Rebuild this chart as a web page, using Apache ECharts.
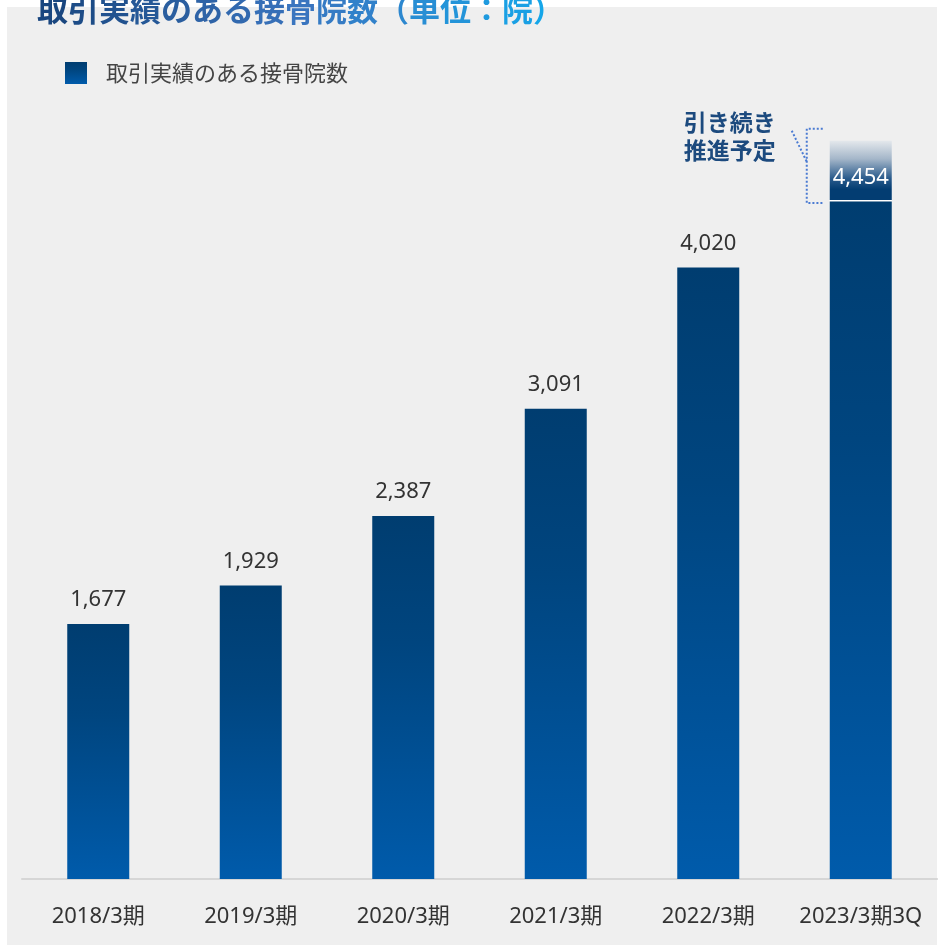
<!DOCTYPE html>
<html>
<head>
<meta charset="utf-8">
<script src="https://cdn.jsdelivr.net/npm/echarts@6/dist/echarts.min.js"></script>
<style>
  html, body { margin: 0; padding: 0; background: #ffffff; }
  #chart { width: 941px; height: 945px; }
</style>
</head>
<body>
<div id="chart"></div>
<script>
// 取引実績のある接骨院数（単位：院）
const categories = ['2018/3期', '2019/3期', '2020/3期', '2021/3期', '2022/3期', '2023/3期3Q'];
const clinicCounts = [1677, 1929, 2387, 3091, 4020, 4454];
// faded cap on the latest period: "引き続き推進予定"
const outlookCap = [null, null, null, null, null, 400];
const seriesName = '取引実績のある接骨院数';
const titleText = '取引実績のある接骨院数（単位：院）';

const FONT = '"Noto Sans", "Noto Sans CJK JP", sans-serif';
const CJK = '"Noto Sans CJK JP", "Noto Sans", sans-serif';

// colour blend used for the title lettering
function hex(c) { return [1, 3, 5].map(i => parseInt(c.substr(i, 2), 16)); }
function mix(a, b, t) {
  const A = hex(a), B = hex(b);
  return 'rgb(' + A.map((v, i) => Math.round(v + (B[i] - v) * t)).join(',') + ')';
}
function titleColor(t) {
  return t < 0.5 ? mix('#19467f', '#3a75bf', t / 0.5) : mix('#3a75bf', '#15a6e9', (t - 0.5) / 0.5);
}
const TITLE_FONT = 'bold 31px ' + CJK;
const titleRich = {};
let titleFmt = '';
Array.from(titleText).forEach((ch, i, arr) => {
  const key = 'c' + i;
  titleRich[key] = { fill: titleColor(i / (arr.length - 1)), font: TITLE_FONT };
  titleFmt += '{' + key + '|' + ch + '}';
});

const barGradient = new echarts.graphic.LinearGradient(0, 0, 0, 1, [
  { offset: 0, color: '#003d70' },
  { offset: 0.35, color: '#00457f' },
  { offset: 1, color: '#005bab' }
]);
const capGradient = new echarts.graphic.LinearGradient(0, 0, 0, 1, [
  { offset: 0, color: '#e4e8ec' },
  { offset: 0.3, color: '#a4b6c9' },
  { offset: 0.62, color: '#2a5b8c' },
  { offset: 0.8, color: '#033d72' },
  { offset: 0.975, color: '#033d72' },
  { offset: 0.975, color: '#ffffff' },
  { offset: 1, color: '#ffffff' }
]);

const fmt = v => Number(v).toLocaleString('en-US');

const chart = echarts.init(document.getElementById('chart'), null, { renderer: 'canvas' });

const panel = {
  type: 'rect', z: -10, silent: true,
  shape: { x: 7, y: 7, width: 930, height: 938 }, style: { fill: '#efefef' }
};
const title = {
  type: 'text', z: 10, left: 37, top: -6,
  style: { text: titleFmt, rich: titleRich, font: TITLE_FONT }
};

chart.setOption({
  backgroundColor: '#ffffff',
  animation: false,
  legend: {
    data: [seriesName],
    left: 65,
    top: 62,
    padding: 0,
    itemWidth: 22,
    itemHeight: 22,
    icon: 'rect',
    textStyle: { fontFamily: CJK, fontSize: 22, color: '#444444', padding: [0, 0, 0, 14] }
  },
  grid: { left: 22, right: 4, top: 118.5, bottom: 66 },
  xAxis: {
    type: 'category',
    data: categories,
    axisLine: { lineStyle: { color: '#d6d6d6', width: 2 } },
    axisTick: { show: false },
    axisLabel: { interval: 0, fontFamily: FONT, fontSize: 22, color: '#333333', margin: 27 }
  },
  yAxis: {
    type: 'value',
    min: 0,
    max: 5000,
    show: false,
    splitLine: { show: false }
  },
  series: [
    {
      name: seriesName,
      type: 'bar',
      stack: 'total',
      z: 3,
      barWidth: 62,
      itemStyle: { color: barGradient },
      label: {
        show: true,
        position: 'top',
        distance: 13,
        fontFamily: FONT,
        fontSize: 22,
        color: '#333333',
        formatter: p => fmt(p.value)
      },
      data: clinicCounts.map((v, i) => i === clinicCounts.length - 1
        ? { value: v, label: { color: '#ffffff' } }
        : v)
    },
    {
      name: 'outlook',
      type: 'bar',
      stack: 'total',
      z: 2,
      barWidth: 62,
      itemStyle: { color: capGradient },
      label: { show: false },
      data: outlookCap
    }
  ],
  graphic: [panel, title]
});

// bracket note beside the latest bar, anchored to that bar through the axes
const last = categories.length - 1;
const pBar = chart.convertToPixel({ seriesIndex: 0 }, [categories[last], clinicCounts[last]]);
const pCap = chart.convertToPixel({ seriesIndex: 0 }, [categories[last], clinicCounts[last] + outlookCap[last]]);
const bx = pBar[0] - 31 - 23;
const yTop = pCap[1] - 12;
const yBot = pBar[1] + 1.5;
const dotted = { stroke: '#4b7bd2', lineWidth: 2, lineDash: [2, 2], fill: null };
chart.setOption({
  graphic: [
    panel,
    title,
    {
      type: 'polyline', z: 10, silent: true,
      shape: { points: [[bx + 16, yTop], [bx, yTop], [bx, yBot], [bx + 16, yBot]] },
      style: dotted
    },
    {
      type: 'line', z: 10, silent: true,
      shape: { x1: bx - 15, y1: yTop + 2, x2: bx, y2: yTop + 33 },
      style: dotted
    },
    {
      type: 'text', z: 10,
      x: bx - 123, y: yTop - 20,
      style: {
        text: '引き続き\n推進予定',
        font: 'bold 23px ' + CJK,
        fill: '#1c4a7e',
        lineHeight: 28
      }
    }
  ]
}, { replaceMerge: ['graphic'] });
</script>
</body>
</html>
